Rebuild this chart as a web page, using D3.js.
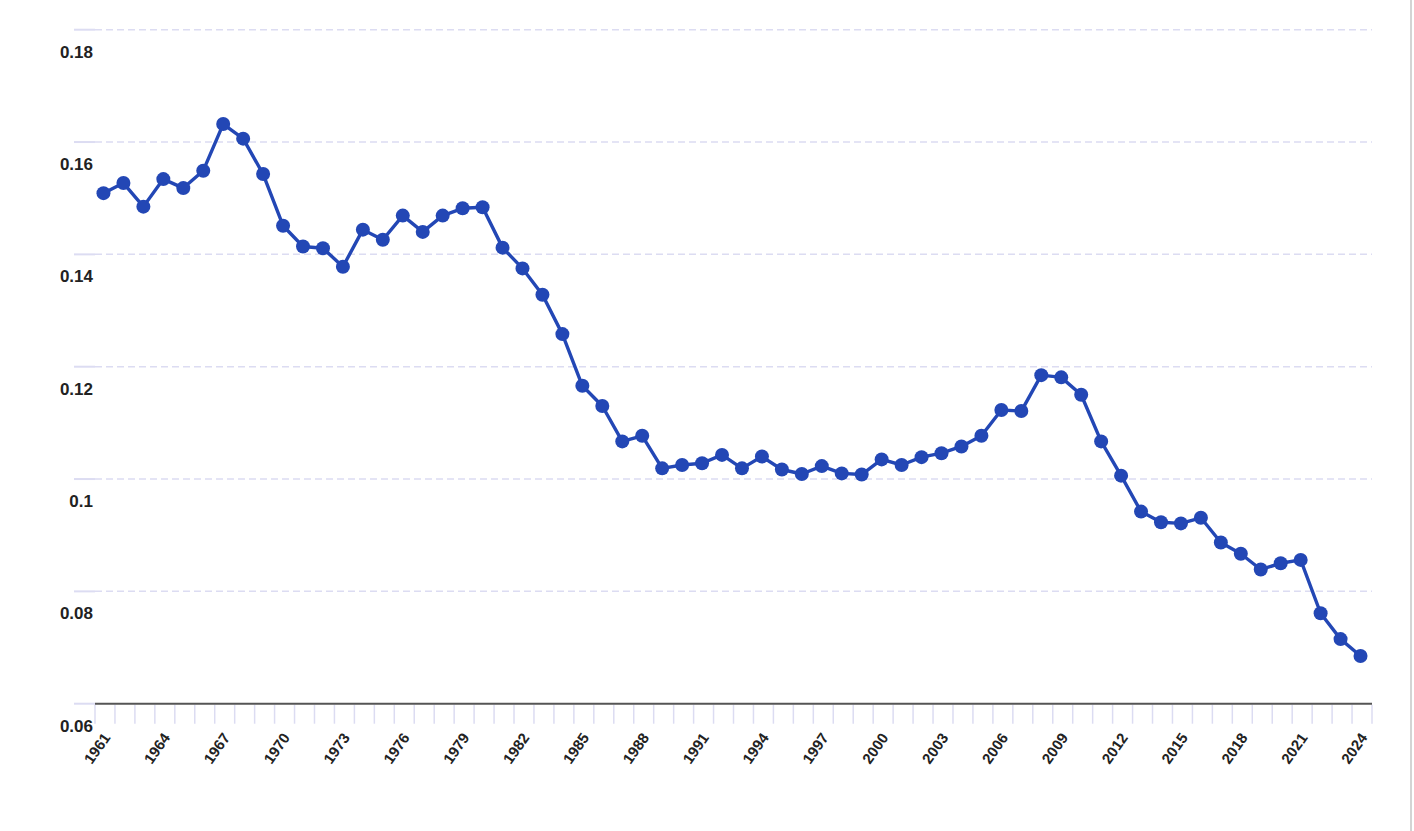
<!DOCTYPE html>
<html>
<head>
<meta charset="utf-8">
<script src="https://cdn.jsdelivr.net/npm/d3@7"></script>
<style>
  html, body { margin: 0; padding: 0; background: #ffffff; }
  svg { display: block; }
  text { font-family: "Liberation Sans", Arial, sans-serif; font-weight: bold; fill: #222; }
</style>
</head>
<body>
<svg id="chart" width="1414" height="831"></svg>
<script>
const years = [1961,1962,1963,1964,1965,1966,1967,1968,1969,1970,
  1971,1972,1973,1974,1975,1976,1977,1978,1979,1980,
  1981,1982,1983,1984,1985,1986,1987,1988,1989,1990,
  1991,1992,1993,1994,1995,1996,1997,1998,1999,2000,
  2001,2002,2003,2004,2005,2006,2007,2008,2009,2010,
  2011,2012,2013,2014,2015,2016,2017,2018,2019,2020,
  2021,2022,2023,2024];

const values = [0.1509,0.1527,0.1485,0.1534,0.1518,0.1549,0.1632,0.1606,0.1543,0.1451,
  0.1414,0.1411,0.1378,0.1444,0.1426,0.1469,0.1440,0.1469,0.1482,0.1484,
  0.1412,0.1375,0.1328,0.1258,0.1166,0.1130,0.1067,0.1077,0.1019,0.1025,
  0.1028,0.1043,0.1019,0.1040,0.1017,0.1009,0.1023,0.1010,0.1008,0.1035,
  0.1025,0.1039,0.1046,0.1058,0.1077,0.1123,0.1121,0.1185,0.1181,0.1150,
  0.1067,0.1006,0.0942,0.0923,0.0921,0.0931,0.0887,0.0867,0.0839,0.0850,
  0.0856,0.0761,0.0715,0.0685];

const yTicks = [0.06,0.08,0.10,0.12,0.14,0.16,0.18];
const yTickLabels = ["0.06","0.08","0.1","0.12","0.14","0.16","0.18"];
const xLabelYears = [1961,1964,1967,1970,1973,1976,1979,1982,1985,1988,1991,
  1994,1997,2000,2003,2006,2009,2012,2015,2018,2021,2024];

const svg = d3.select("#chart");
const mLeft = 95, mRight = 1372, mTop = 29.7, mBottom = 703.7;

const x = d3.scaleBand().domain(years).range([mLeft, mRight]).padding(0);
const y = d3.scaleLinear().domain([0.06, 0.18]).range([mBottom, mTop]);
const bw = x.bandwidth();

const grid = "#dcdcf2";

// right border
svg.append("line").attr("x1", 1411).attr("x2", 1411).attr("y1", 0).attr("y2", 831)
  .attr("stroke", "#d4d4d4").attr("stroke-width", 2);

// y gridlines and tick marks
const gy = svg.append("g");
yTicks.forEach((t, i) => {
  const yy = y(t);
  gy.append("line").attr("x1", 74).attr("x2", mLeft).attr("y1", yy).attr("y2", yy)
    .attr("stroke", grid).attr("stroke-width", 2);
  if (t !== 0.06) {
    gy.append("line").attr("x1", mLeft).attr("x2", mRight).attr("y1", yy).attr("y2", yy)
      .attr("stroke", grid).attr("stroke-width", 1.5).attr("stroke-dasharray", "7,4");
  }
  gy.append("text").attr("x", 93).attr("y", yy + 28).attr("text-anchor", "end")
    .attr("font-size", 17).text(yTickLabels[i]);
});

// x tick marks at band boundaries
const boundaries = years.map(d => x(d)).concat([mRight]);
svg.append("g").selectAll("line").data(boundaries).join("line")
  .attr("x1", d => d).attr("x2", d => d).attr("y1", mBottom + 1).attr("y2", mBottom + 20)
  .attr("stroke", grid).attr("stroke-width", 1.5);

// x axis line
svg.append("line").attr("x1", mLeft).attr("x2", mRight).attr("y1", mBottom).attr("y2", mBottom)
  .attr("stroke", "#555").attr("stroke-width", 2);

// x labels
svg.append("g").selectAll("text").data(xLabelYears).join("text")
  .attr("text-anchor", "end").attr("font-size", 15)
  .attr("transform", d => `translate(${x(d) + bw / 2 + 6},${mBottom + 34}) rotate(-55)`)
  .text(d => d);

// line
const pts = years.map((d, i) => [x(d) + bw / 2 - 1.5, y(values[i])]);
const color = "#2347b5";
svg.append("path").attr("d", d3.line()(pts)).attr("fill", "none")
  .attr("stroke", color).attr("stroke-width", 3.4).attr("stroke-linejoin", "round");

svg.append("g").selectAll("circle").data(pts).join("circle")
  .attr("cx", d => d[0]).attr("cy", d => d[1]).attr("r", 7).attr("fill", color);
</script>
</body>
</html>
